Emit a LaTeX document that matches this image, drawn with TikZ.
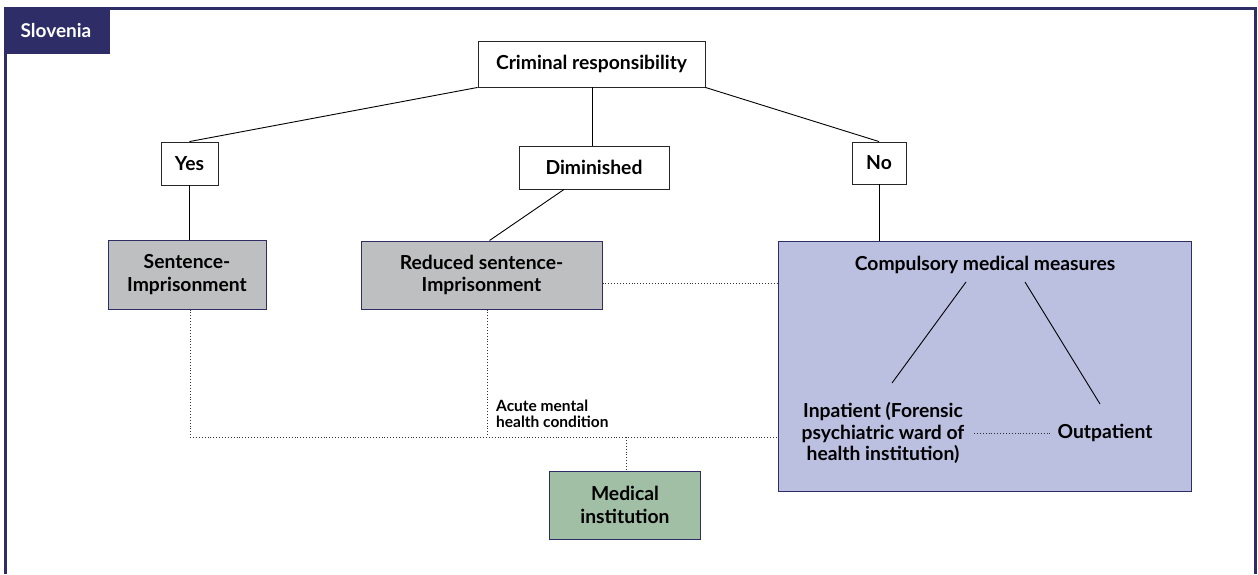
\documentclass[tikz,border=0pt]{standalone}
\usepackage{fontspec}
\setmainfont{Lato}
\definecolor{navy}{HTML}{2E2D68}
\definecolor{boxgray}{HTML}{BEBFC0}
\definecolor{lavender}{HTML}{BBC0E0}
\definecolor{sage}{HTML}{A0BFA4}
\begin{document}
\begin{tikzpicture}[x=1pt,y=-1pt,
  txt/.style={font=\bfseries\fontsize{19.3}{22.5}\selectfont, align=center, text=black},
  plainbox/.style={txt, draw=black!85, line width=0.9pt, fill=white, inner sep=0pt},
  graybox/.style={txt, draw=navy, line width=1pt, fill=boxgray, inner sep=0pt},
  link/.style={line width=0.9pt, draw=black},
  dotlink/.style={line width=0.9pt, draw=black!80, dotted}]
\useasboundingbox (0,0) rectangle (1258,574);
\fill[white] (0,0) rectangle (1258,574);
% outer frame and country tab
\draw[navy, line width=3pt] (5,574) -- (5,8) -- (1255,8) -- (1255,574);
\fill[navy] (3.5,6.5) rectangle (110,54);
\node[font=\bfseries\fontsize{19}{22}\selectfont, text=white] (tab) at (56,31) {Slovenia};

% decision tree
\node[plainbox, minimum width=227, minimum height=46] (crim) at (591.5,64) {Criminal responsibility};
\node[plainbox, minimum width=57, minimum height=43] (yes) at (189.5,163.5) {Yes};
\node[plainbox, minimum width=150, minimum height=43] (dim) at (594,167.5) {Diminished};
\node[plainbox, minimum width=54, minimum height=42] (no) at (879,163) {No};

\node[graybox, minimum width=158, minimum height=69] (sent) at (187,274.5) {Sentence-\\Imprisonment};
\node[graybox, minimum width=241, minimum height=68] (red) at (481.5,275) {Reduced sentence-\\Imprisonment};
\node[graybox, fill=lavender, minimum width=413, minimum height=250] (comp) at (985,366) {};
\node[graybox, fill=sage, minimum width=151, minimum height=68] (med) at (625,505) {Medical\\institution};

\node[txt] (cmm) at (985,265) {Compulsory medical measures};
\node[txt, font=\bfseries\fontsize{19.3}{21.5}\selectfont] (inp) at (883,433) {Inpatient (Forensic\\psychiatric ward of\\health institution)};
\node[txt] (outp) at (1105,433) {Outpatient};
\node[font=\bfseries\fontsize{15.5}{16.5}\selectfont, align=left, anchor=west, inner sep=0pt] (acute) at (496,414) {Acute mental\\health condition};

% solid connectors
\coordinate (crimB) at (592,87);
\draw[link] (crim.south west) -- (yes.north);
\draw[link] (crimB) -- (dim.north -| crimB);
\draw[link] (crim.south east) -- (no.north);
\draw[link] (yes.south) -- (sent.north -| yes.south);
\draw[link] (no.south) -- (comp.north -| no.south);
\draw[link] ([xshift=-30pt]dim.south) -- ([xshift=8pt]red.north);
\coordinate (cmmL) at (966,282);
\coordinate (cmmR) at (1025,282);
\coordinate (inpT) at (892,383);
\coordinate (outT) at (1100,404);
\draw[link] (cmmL) -- (inpT);
\draw[link] (cmmR) -- (outT);

% dotted connectors
\coordinate (jl) at (190,437);
\coordinate (jm) at (487,437);
\coordinate (jmed) at (626,437);
\draw[dotlink] (red.east |- 0,283) -- (comp.west |- 0,283);
\draw[dotlink] (sent.south -| jl) -- (jl) -- (comp.west |- jl);
\draw[dotlink] (red.south -| jm) -- (jm);
\draw[dotlink] (jmed) -- (med.north -| jmed);
\draw[dotlink] (974,433) -- (1050,433);
\end{tikzpicture}
\end{document}
